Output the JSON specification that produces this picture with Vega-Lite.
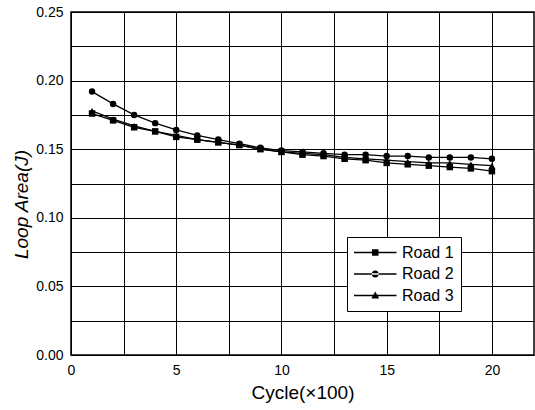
{
  "$schema": "https://vega.github.io/schema/vega-lite/v6.json",
  "width": 463,
  "height": 343,
  "autosize": "none",
  "padding": {"left": 71, "top": 12, "right": 1, "bottom": 55},
  "background": "white",
  "config": {
    "font": "Liberation Sans",
    "view": {"stroke": "black", "strokeWidth": 1.5},
    "axis": {
      "grid": true,
      "gridColor": "black",
      "gridOpacity": 1,
      "gridWidth": 1,
      "domain": false,
      "ticks": false,
      "labelFont": "Liberation Sans",
      "labelFontSize": 14,
      "labelColor": "black",
      "titleFont": "Liberation Sans",
      "titleFontSize": 19,
      "titleFontWeight": "normal",
      "titleColor": "black",
      "labelPadding": 8
    }
  },
  "data": {
    "values": [
      {"cycle": 1, "road": "Road 1", "area": 0.176},
      {"cycle": 2, "road": "Road 1", "area": 0.171},
      {"cycle": 3, "road": "Road 1", "area": 0.166},
      {"cycle": 4, "road": "Road 1", "area": 0.163},
      {"cycle": 5, "road": "Road 1", "area": 0.159},
      {"cycle": 6, "road": "Road 1", "area": 0.157},
      {"cycle": 7, "road": "Road 1", "area": 0.155},
      {"cycle": 8, "road": "Road 1", "area": 0.153},
      {"cycle": 9, "road": "Road 1", "area": 0.150},
      {"cycle": 10, "road": "Road 1", "area": 0.148},
      {"cycle": 11, "road": "Road 1", "area": 0.146},
      {"cycle": 12, "road": "Road 1", "area": 0.145},
      {"cycle": 13, "road": "Road 1", "area": 0.143},
      {"cycle": 14, "road": "Road 1", "area": 0.142},
      {"cycle": 15, "road": "Road 1", "area": 0.140},
      {"cycle": 16, "road": "Road 1", "area": 0.139},
      {"cycle": 17, "road": "Road 1", "area": 0.138},
      {"cycle": 18, "road": "Road 1", "area": 0.137},
      {"cycle": 19, "road": "Road 1", "area": 0.136},
      {"cycle": 20, "road": "Road 1", "area": 0.134},
      {"cycle": 1, "road": "Road 2", "area": 0.192},
      {"cycle": 2, "road": "Road 2", "area": 0.183},
      {"cycle": 3, "road": "Road 2", "area": 0.175},
      {"cycle": 4, "road": "Road 2", "area": 0.169},
      {"cycle": 5, "road": "Road 2", "area": 0.164},
      {"cycle": 6, "road": "Road 2", "area": 0.160},
      {"cycle": 7, "road": "Road 2", "area": 0.157},
      {"cycle": 8, "road": "Road 2", "area": 0.154},
      {"cycle": 9, "road": "Road 2", "area": 0.151},
      {"cycle": 10, "road": "Road 2", "area": 0.149},
      {"cycle": 11, "road": "Road 2", "area": 0.148},
      {"cycle": 12, "road": "Road 2", "area": 0.147},
      {"cycle": 13, "road": "Road 2", "area": 0.146},
      {"cycle": 14, "road": "Road 2", "area": 0.146},
      {"cycle": 15, "road": "Road 2", "area": 0.145},
      {"cycle": 16, "road": "Road 2", "area": 0.145},
      {"cycle": 17, "road": "Road 2", "area": 0.144},
      {"cycle": 18, "road": "Road 2", "area": 0.144},
      {"cycle": 19, "road": "Road 2", "area": 0.144},
      {"cycle": 20, "road": "Road 2", "area": 0.143},
      {"cycle": 1, "road": "Road 3", "area": 0.178},
      {"cycle": 2, "road": "Road 3", "area": 0.172},
      {"cycle": 3, "road": "Road 3", "area": 0.167},
      {"cycle": 4, "road": "Road 3", "area": 0.163},
      {"cycle": 5, "road": "Road 3", "area": 0.160},
      {"cycle": 6, "road": "Road 3", "area": 0.157},
      {"cycle": 7, "road": "Road 3", "area": 0.155},
      {"cycle": 8, "road": "Road 3", "area": 0.153},
      {"cycle": 9, "road": "Road 3", "area": 0.150},
      {"cycle": 10, "road": "Road 3", "area": 0.148},
      {"cycle": 11, "road": "Road 3", "area": 0.147},
      {"cycle": 12, "road": "Road 3", "area": 0.146},
      {"cycle": 13, "road": "Road 3", "area": 0.144},
      {"cycle": 14, "road": "Road 3", "area": 0.143},
      {"cycle": 15, "road": "Road 3", "area": 0.142},
      {"cycle": 16, "road": "Road 3", "area": 0.141},
      {"cycle": 17, "road": "Road 3", "area": 0.140},
      {"cycle": 18, "road": "Road 3", "area": 0.140},
      {"cycle": 19, "road": "Road 3", "area": 0.139},
      {"cycle": 20, "road": "Road 3", "area": 0.138}
    ]
  },
  "encoding": {
    "x": {
      "field": "cycle",
      "type": "quantitative",
      "scale": {"domain": [0, 22], "nice": false, "zero": false},
      "axis": {
        "title": "Cycle(×100)",
        "values": [0, 2.5, 5, 7.5, 10, 12.5, 15, 17.5, 20],
        "labelExpr": "datum.value % 5 === 0 ? format(datum.value, 'd') : ''",
        "labelFlush": false,
        "titlePadding": 6
      }
    },
    "y": {
      "field": "area",
      "type": "quantitative",
      "scale": {"domain": [0, 0.25], "nice": false},
      "axis": {
        "title": "Loop Area(J)",
        "titleFontStyle": "italic",
        "values": [0, 0.025, 0.05, 0.075, 0.1, 0.125, 0.15, 0.175, 0.2, 0.225, 0.25],
        "labelExpr": "round(datum.value * 1000) % 50 === 0 ? format(datum.value, '.2f') : ''",
        "labelFlush": false,
        "titleX": -40,
        "titleY": 192
      }
    }
  },
  "layer": [
    {
      "mark": {"type": "line", "color": "black", "strokeWidth": 1.3},
      "encoding": {"detail": {"field": "road", "type": "nominal"}}
    },
    {
      "mark": {"type": "point", "filled": true, "color": "black", "opacity": 1, "size": 42},
      "encoding": {
        "shape": {
          "field": "road",
          "type": "nominal",
          "scale": {"domain": ["Road 1", "Road 2", "Road 3"], "range": ["square", "circle", "triangle-up"]},
          "legend": null
        }
      }
    },
    {
      "mark": {"type": "point", "filled": true, "color": "black", "opacity": 0, "size": 42},
      "encoding": {
        "shape": {
          "field": "road",
          "type": "nominal",
          "scale": {
            "domain": ["Road 1", "Road 2", "Road 3"],
            "range": [
              "M-1,-0.08H4V0.08H-1ZM1.12,-0.38H1.88V0.38H1.12Z",
              "M-1,-0.08H4V0.08H-1ZM1.08,0A0.42,0.42 0 1,0 1.92,0A0.42,0.42 0 1,0 1.08,0Z",
              "M-1,-0.08H4V0.08H-1ZM1.5,-0.48L1.96,0.34H1.04Z"
            ]
          },
          "legend": {
            "title": null,
            "orient": "none",
            "legendX": 276,
            "legendY": 225,
            "fillColor": "white",
            "strokeColor": "black",
            "padding": 7,
            "rowPadding": 4.5,
            "symbolSize": 289,
            "symbolOpacity": 1,
            "symbolFillColor": "black",
            "symbolStrokeColor": "black",
            "symbolStrokeWidth": 0,
            "labelOffset": 31,
            "labelFont": "Liberation Sans",
            "labelFontSize": 16,
            "labelColor": "black"
          }
        }
      }
    }
  ],
  "resolve": {"scale": {"shape": "independent"}}
}
